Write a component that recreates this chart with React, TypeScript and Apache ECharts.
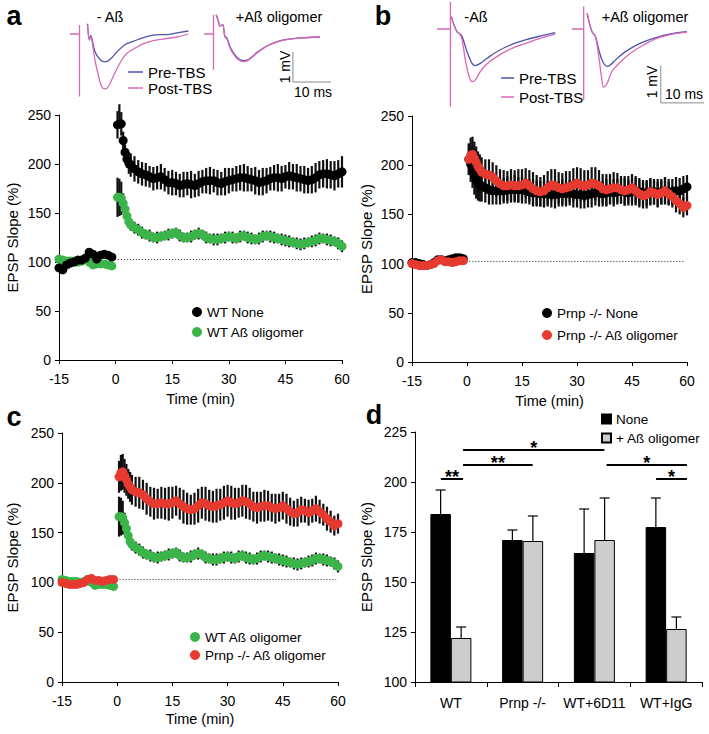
import React, { useEffect, useRef } from "react";
import * as echarts from "echarts";

const FONT = "'Liberation Sans', Arial, Helvetica, sans-serif";

// ---- time course (min) ----
const times = [
  -15, -14, -13, -12, -11, -10, -9, -8, -7, -6, -5, -4, -3, -2, -1,
  0.5, 1, 1.5, 2, 2.5, 3, 3.5, 4,
  5, 6, 7, 8, 9, 10, 11, 12,
  13, 14, 15, 16, 17, 18, 19, 20,
  21, 22, 23, 24, 25, 26, 27, 28,
  29, 30, 31, 32, 33, 34, 35, 36,
  37, 38, 39, 40, 41, 42, 43, 44,
  45, 46, 47, 48, 49, 50, 51, 52,
  53, 54, 55, 56, 57, 58, 59, 60,
];

const wtNoneMean = [
  94, 92, 97, 99, 100, 102, 102, 104, 110, 108, 103, 107, 108, 107, 105,
  240, 251, 241, 224, 212, 205, 201, 199,
  195, 192, 190, 189, 187, 185, 186, 187,
  184, 181, 181, 180, 178, 179, 180, 179,
  178, 180, 182, 183, 183, 183, 181, 180,
  182, 183, 184, 185, 186, 186, 185, 184,
  183, 181, 182, 183, 185, 186, 186, 185,
  187, 188, 187, 186, 185, 184, 183, 184,
  186, 189, 190, 190, 189, 188, 190, 192,
];
const wtNoneErr = [
  4, 4, 3, 3, 3, 3, 3, 3, 4, 4, 3, 4, 4, 3, 3,
  14, 10, 12, 9, 8, 9, 11, 12,
  13, 12, 12, 12, 11, 12, 12, 13,
  12, 12, 13, 12, 12, 13, 12, 14,
  12, 13, 12, 13, 14, 12, 13, 12,
  14, 13, 12, 13, 13, 14, 13, 12,
  14, 13, 14, 13, 12, 13, 14, 13,
  12, 14, 13, 14, 13, 14, 13, 14,
  15, 14, 14, 15, 14, 15, 14, 16,
];
const wtAbMean = [
  103, 102, 101, 101, 101, 100, 101, 103, 100, 97, 98, 98, 98, 97, 96,
  166, 166, 165, 160, 154, 147, 141, 138,
  135, 133, 130, 128, 127, 125, 125, 126,
  127, 128, 129, 130, 127, 125, 125, 126,
  128, 129, 128, 125, 124, 123, 123, 124,
  125, 126, 125, 124, 126, 127, 125, 124,
  123, 124, 126, 127, 126, 125, 124, 123,
  122, 121, 120, 119, 118, 119, 120, 121,
  122, 124, 124, 123, 122, 121, 119, 116,
];
const wtAbErr = [
  3, 3, 2, 2, 2, 2, 2, 3, 3, 2, 2, 2, 2, 2, 2,
  20, 19, 17, 10, 8, 7, 6, 6,
  6, 6, 6, 5, 6, 5, 6, 5,
  5, 6, 5, 5, 6, 5, 5, 6,
  5, 6, 5, 6, 5, 6, 6, 5,
  6, 5, 6, 5, 6, 5, 6, 6,
  5, 6, 6, 5, 6, 6, 5, 6,
  6, 6, 5, 6, 6, 6, 5, 6,
  6, 6, 5, 6, 6, 5, 6, 6,
];
const prnpNoneMean = [
  101, 101, 100, 99, 98, 99, 101, 104, 104, 103, 104, 105, 106, 106, 105,
  206, 201, 196, 190, 185, 182, 180, 179,
  177, 175, 174, 174, 174, 174, 175, 175,
  176, 175, 175, 174, 173, 172, 172, 171,
  171, 171, 170, 170, 171, 172, 171, 172,
  171, 170, 170, 169, 170, 171, 172, 172,
  171, 172, 173, 172, 173, 174, 173, 172,
  173, 174, 173, 172, 172, 173, 173, 172,
  173, 174, 173, 173, 174, 174, 176, 178,
];
const prnpNoneErr = [
  3, 3, 3, 3, 3, 3, 3, 3, 3, 3, 3, 3, 3, 3, 3,
  16, 18, 19, 20, 19, 18, 17, 16,
  15, 15, 14, 14, 14, 13, 14, 13,
  14, 13, 14, 13, 13, 14, 13, 13,
  14, 13, 13, 14, 13, 14, 13, 13,
  14, 13, 14, 13, 13, 14, 13, 14,
  13, 14, 13, 14, 13, 13, 14, 13,
  14, 13, 14, 13, 13, 14, 13, 14,
  13, 14, 13, 13, 14, 13, 13, 12,
];
const prnpAbMean = [
  100, 99, 98, 98, 98, 99, 100, 103, 104, 102, 102, 101, 102, 103, 103,
  206, 210, 211, 207, 203, 199, 196, 193,
  191, 190, 188, 184, 181, 179, 179, 180,
  179, 179, 180, 182, 179, 176, 174, 173,
  174, 177, 180, 179, 177, 176, 177, 178,
  180, 182, 180, 179, 180, 182, 181, 179,
  176, 175, 176, 177, 177, 175, 174, 175,
  177, 174, 171, 169, 170, 173, 172, 170,
  172, 174, 171, 168, 164, 161, 157, 159,
];
const prnpAbErr = [
  3, 3, 3, 3, 3, 3, 3, 4, 4, 3, 3, 3, 3, 3, 3,
  16, 18, 18, 17, 16, 15, 15, 15,
  15, 16, 15, 16, 15, 16, 15, 16,
  16, 17, 16, 15, 16, 17, 16, 15,
  16, 17, 16, 17, 16, 16, 17, 16,
  17, 16, 17, 16, 15, 16, 17, 16,
  15, 16, 15, 16, 15, 14, 15, 14,
  14, 15, 14, 13, 14, 13, 12, 13,
  12, 13, 12, 11, 12, 11, 10, 10,
];
const baselineLevel = [103, 102, 103];

// ---- bar panel d ----
const groups = ["WT", "Prnp -/-", "WT+6D11", "WT+IgG"];
const noneMean = [184, 171, 164.5, 177.5];
const noneErr = [12, 5, 22, 14.5];
const abMean = [122, 170.5, 171, 126.5];
const abErr = [5.5, 12.5, 21, 6];
// significance brackets: [from, to, level] (category units)
const sigLines = [
  [0.36, 0.67, 201.5],
  [0.67, 1.64, 208.5],
  [0.67, 2.64, 216],
  [2.67, 3.79, 208.5],
  [3.36, 3.79, 201.5],
];
const sigStars = ["**", "**", "*", "*", "*"];

// ---- EPSP traces (ms, mV) ----
const artA1 = [[0, 0], [2.5, 0], [2.5, 0.3], [2.5, -2.08]];
const artA2 = [[0, 0], [2.5, 0], [2.5, 0.64], [2.5, -1.19]];
const artB1 = [[0, 0], [3.1, 0], [3.1, 0.73], [3.1, -2.08]];
const artB2 = [[0, 0], [2.7, 0], [2.7, 0.6], [2.7, -1.9]];
const trA1Pre = [[4.6, 0.34], [5.1, -0.2], [5.4, -0.05], [6.6, -0.6], [7.9, -0.85], [9.2, -0.93], [10.5, -0.85], [12.3, -0.6], [14.5, -0.35], [16.7, -0.24], [19.3, -0.12], [21.9, -0.04], [23.7, -0.02], [25.4, -0.02], [28.1, 0.04], [31.1, 0.1]];
const trA1Post = [[4.6, 0.3], [5.1, -0.2], [5.4, -0.1], [6.6, -0.9], [7.5, -1.4], [8.3, -1.75], [9.2, -1.83], [10.1, -1.75], [11.4, -1.4], [13.2, -0.95], [14.9, -0.65], [16.7, -0.5], [19.3, -0.32], [21.9, -0.22], [25.4, -0.15], [28.1, -0.1], [31.1, 0.0]];
const trA2Pre = [[3.2, 0.64], [3.8, 0.42], [4.2, 0.26], [4.9, 0.31], [5.5, -0.08], [6.0, -0.13], [6.8, -0.41], [7.7, -0.62], [9.0, -0.82], [10.4, -0.89], [11.7, -0.85], [13.9, -0.62], [16.5, -0.4], [19.1, -0.26], [21.8, -0.18], [25.3, -0.13], [30.5, -0.1]];
const trA2Post = [[3.2, 0.64], [3.8, 0.42], [4.2, 0.26], [4.9, 0.31], [5.5, -0.1], [6.0, -0.16], [6.8, -0.45], [7.7, -0.66], [9.0, -0.85], [10.4, -0.92], [11.7, -0.87], [13.9, -0.64], [16.5, -0.41], [19.1, -0.27], [21.8, -0.19], [25.3, -0.13], [30.5, -0.1]];
const trB1Pre = [[3.3, 0.33], [3.8, 0.15], [4.6, -0.07], [5.2, -0.12], [5.8, -0.2], [6.9, -0.6], [8.1, -0.92], [8.8, -0.98], [10.0, -0.92], [11.5, -0.79], [13.8, -0.61], [16.9, -0.43], [20.8, -0.28], [23.8, -0.19], [27.3, -0.1]];
const trB1Post = [[3.3, 0.33], [3.8, 0.15], [4.6, -0.07], [5.2, -0.12], [5.8, -0.3], [6.5, -0.8], [7.3, -1.23], [8.1, -1.41], [8.8, -1.37], [10.0, -1.14], [11.5, -0.94], [13.8, -0.74], [16.9, -0.54], [20.8, -0.37], [23.8, -0.25], [27.3, -0.14]];
const trB2Pre = [[3.5, 0.42], [4.6, -0.07], [5.4, -0.2], [6.2, -0.56], [7.0, -0.85], [8.1, -1.0], [9.0, -0.95], [10.4, -0.79], [12.7, -0.58], [15.8, -0.38], [18.8, -0.25], [22.7, -0.13], [26.5, -0.07]];
const trB2Post = [[3.5, 0.42], [4.6, -0.07], [5.4, -0.2], [6.2, -0.75], [6.8, -1.28], [7.3, -1.56], [8.1, -1.46], [9.2, -1.14], [11.2, -0.88], [13.5, -0.65], [16.5, -0.43], [19.6, -0.25], [23.5, -0.13], [26.5, -0.09]];
const scaleBarA = [[23.4, -0.6], [23.4, -1.6], [33.4, -1.6]];
const scaleBarB = [[20.5, -0.98], [20.5, -1.98], [30.5, -1.98]];

const BLACK = "#000000";
const GREEN = "#3bb54a";
const RED = "#e63a30";
const BLUE = "#4d55a8";
const PINK = "#d968b6";

function errSeries(idx: number, mean: number[], err: number[]) {
  return {
    type: "custom",
    xAxisIndex: idx,
    yAxisIndex: idx,
    silent: true,
    z: 1,
    data: times.map((t, i) => [t, mean[i] - (err[i] || 0), mean[i] + (err[i] || 0)]),
    encode: { x: 0, y: [1, 2] },
    renderItem: (params: any, api: any) => {
      const lo = api.coord([api.value(0), api.value(1)]);
      const hi = api.coord([api.value(0), api.value(2)]);
      return {
        type: "line",
        shape: { x1: lo[0], y1: lo[1], x2: hi[0], y2: hi[1] },
        style: { stroke: "#111111", lineWidth: 2.2 },
      };
    },
  };
}

function dotSeries(idx: number, name: string, mean: number[], color: string, baseline?: number) {
  const s: any = {
    type: "scatter",
    name,
    xAxisIndex: idx,
    yAxisIndex: idx,
    z: 3,
    symbol: "circle",
    symbolSize: 9,
    silent: true,
    itemStyle: { color, opacity: 1 },
    data: times.map((t, i) => [t, mean[i]]),
  };
  if (baseline !== undefined) {
    s.markLine = {
      silent: true,
      symbol: ["none", "none"],
      label: { show: false },
      lineStyle: { type: [1, 2], color: "#222", width: 1 },
      z: 2,
      data: [[{ coord: [-1, baseline] }, { coord: [59.5, baseline] }]],
    };
  }
  return s;
}

function traceSeries(idx: number, name: string, data: number[][], color: string) {
  return {
    type: "line",
    name,
    xAxisIndex: idx,
    yAxisIndex: idx,
    data,
    color,
    showSymbol: false,
    smooth: 0.35,
    silent: true,
    lineStyle: { color, width: 1.3 },
  };
}

function scaleSeries(idx: number, data: number[][]) {
  return {
    type: "line",
    xAxisIndex: idx,
    yAxisIndex: idx,
    data,
    showSymbol: false,
    silent: true,
    lineStyle: { color: "#8a8a8a", width: 1 },
  };
}

const axisText = { color: "#000", fontSize: 14, fontFamily: FONT };

function timeX(gi: number, labelMargin: number, nameGap: number) {
  return {
    type: "value",
    gridIndex: gi,
    min: -15,
    max: 60,
    interval: 15,
    axisLine: { show: true, onZero: false, lineStyle: { color: "#000", width: 1 } },
    axisTick: { show: true, length: 4, lineStyle: { color: "#000" } },
    axisLabel: { ...axisText, margin: labelMargin },
    splitLine: { show: false },
    name: "Time (min)",
    nameLocation: "middle",
    nameGap,
    nameTextStyle: { color: "#000", fontSize: 14.5, fontFamily: FONT },
  };
}

function slopeY(gi: number, min: number, max: number, interval: number, nameGap: number) {
  return {
    type: "value",
    gridIndex: gi,
    min,
    max,
    interval,
    axisLine: { show: true, onZero: false, lineStyle: { color: "#000", width: 1 } },
    axisTick: { show: true, length: 4, lineStyle: { color: "#000" } },
    axisLabel: { ...axisText, margin: 8 },
    splitLine: { show: false },
    name: "EPSP Slope (%)",
    nameLocation: "middle",
    nameGap,
    nameTextStyle: { color: "#000", fontSize: 15, fontFamily: FONT },
  };
}

function hiddenAxis(gi: number, min: number, max: number) {
  return { type: "value", gridIndex: gi, min, max, show: false, splitLine: { show: false } };
}

function barErr(idx: number, mean: number[], err: number[], side: number) {
  return {
    type: "custom",
    xAxisIndex: 3,
    yAxisIndex: 3,
    silent: true,
    z: 4,
    data: mean.map((m, i) => [i, m, err[i]]),
    renderItem: (params: any, api: any) => {
      const i = api.value(0);
      const m = api.value(1);
      const e = api.value(2);
      const base = api.coord([i, m]);
      const top = api.coord([i, m + e]);
      const bw = api.size([1, 0])[0];
      const x = base[0] + side * bw * 0.1429;
      return {
        type: "group",
        children: [
          { type: "line", shape: { x1: x, y1: base[1], x2: x, y2: top[1] }, style: { stroke: "#000", lineWidth: 1.2 } },
          { type: "line", shape: { x1: x - 5, y1: top[1], x2: x + 5, y2: top[1] }, style: { stroke: "#000", lineWidth: 1.2 } },
        ],
      };
    },
  };
}

function legendCfg(data: string[], left: number, top: number, gap: number, icon: string, w: number, h: number, fs: number) {
  return {
    data,
    left,
    top,
    orient: "vertical",
    icon,
    itemWidth: w,
    itemHeight: h,
    itemGap: gap,
    selectedMode: false,
    padding: 0,
    textStyle: { color: "#000", fontSize: fs, fontFamily: FONT, lineHeight: 16 },
  };
}

function txt(text: string, x: number, y: number, size: number, bold = false, rotation = 0, align = "center") {
  return {
    type: "text",
    x,
    y,
    rotation,
    silent: true,
    style: {
      text,
      fill: "#000",
      fontSize: size,
      fontWeight: bold ? "bold" : "normal",
      fontFamily: FONT,
      align,
      textAlign: align,
      verticalAlign: "middle",
      textVerticalAlign: "middle",
    },
  };
}

export default function App() {
  const ref = useRef<HTMLDivElement>(null);
  useEffect(() => {
    document.body.style.margin = "0";
    if (!ref.current) return;
    const chart = echarts.init(ref.current, undefined, { renderer: "svg" });
    const option: any = {
      animation: false,
      backgroundColor: "#ffffff",
      grid: [
        { left: 59, top: 115, width: 283, height: 245 },
        { left: 412, top: 116, width: 275, height: 246 },
        { left: 62, top: 433, width: 276, height: 249 },
        { left: 415, top: 432, width: 287, height: 250 },
        { left: 70, top: 10, width: 118, height: 90 },
        { left: 204, top: 10, width: 133, height: 90 },
        { left: 437, top: 1, width: 118.3, height: 110.1 },
        { left: 572, top: 1, width: 134.3, height: 110.1 },
      ],
      xAxis: [
        timeX(0, 12, 31),
        timeX(1, 12, 31),
        timeX(2, 12, 29),
        {
          type: "category",
          gridIndex: 3,
          data: groups,
          axisLine: { show: true, onZero: false, lineStyle: { color: "#000", width: 1 } },
          axisTick: { show: true, length: 5, alignWithLabel: false, lineStyle: { color: "#000" } },
          axisLabel: { ...axisText, margin: 14, interval: 0 },
        },
        hiddenAxis(4, 0, 31),
        hiddenAxis(5, 0, 35),
        hiddenAxis(6, 0, 27.3),
        hiddenAxis(7, 0, 31),
        hiddenAxis(3, 0, 4),
      ],
      yAxis: [
        slopeY(0, 0, 250, 50, 39),
        slopeY(1, 0, 250, 50, 38),
        slopeY(2, 0, 250, 50, 42),
        slopeY(3, 100, 225, 25, 41),
        hiddenAxis(4, -2.2, 0.8),
        hiddenAxis(5, -2.2, 0.8),
        hiddenAxis(6, -2.2, 0.75),
        hiddenAxis(7, -2.2, 0.75),
      ],
      legend: [
        legendCfg(["WT None", "WT Aß oligomer"], 192, 304, 4, "circle", 10, 10, 13.5),
        legendCfg(["Prnp -/- None", "Prnp -/- Aß oligomer"], 542, 305, 6, "circle", 10, 10, 13.5),
        legendCfg(["WT Aß oligomer", "Prnp -/- Aß oligomer"], 190, 629, 2, "circle", 10, 10, 13.5),
        legendCfg(["None", "+ Aß oligomer"], 601, 411, 3, "rect", 9, 9, 13.5),
        legendCfg(["Pre-TBS", "Post-TBS"], 128, 64, 0, "rect", 15, 1.5, 15),
        legendCfg(["Pre-TBS", "Post-TBS"], 501, 70, 3, "rect", 13, 1.5, 15),
      ],
      series: [
        // panel a
        errSeries(0, wtNoneMean, wtNoneErr),
        errSeries(0, wtAbMean, wtAbErr),
        dotSeries(0, "WT Aß oligomer", wtAbMean, GREEN, baselineLevel[0]),
        dotSeries(0, "WT None", wtNoneMean, BLACK),
        // panel b
        errSeries(1, prnpNoneMean, prnpNoneErr),
        errSeries(1, prnpAbMean, prnpAbErr),
        dotSeries(1, "Prnp -/- None", prnpNoneMean, BLACK, baselineLevel[1]),
        dotSeries(1, "Prnp -/- Aß oligomer", prnpAbMean, RED),
        // panel c
        errSeries(2, wtAbMean, wtAbErr),
        errSeries(2, prnpAbMean, prnpAbErr),
        dotSeries(2, "WT Aß oligomer", wtAbMean, GREEN, baselineLevel[2]),
        dotSeries(2, "Prnp -/- Aß oligomer", prnpAbMean, RED),
        // panel d
        {
          type: "bar",
          name: "None",
          xAxisIndex: 3,
          yAxisIndex: 3,
          data: noneMean,
          barWidth: 20.5,
          barGap: "0%",
          silent: true,
          itemStyle: { color: "#000", borderColor: "#000", borderWidth: 1 },
        },
        {
          type: "bar",
          name: "+ Aß oligomer",
          xAxisIndex: 3,
          yAxisIndex: 3,
          data: abMean,
          barWidth: 20.5,
          barGap: "0%",
          silent: true,
          itemStyle: { color: "#cdcdcd", borderColor: "#000", borderWidth: 1 },
        },
        barErr(3, noneMean, noneErr, -1),
        barErr(3, abMean, abErr, 1),
        {
          type: "custom",
          xAxisIndex: 8,
          yAxisIndex: 3,
          silent: true,
          z: 5,
          data: sigLines,
          encode: { x: [0, 1], y: 2 },
          renderItem: (params: any, api: any) => {
            const a = api.coord([api.value(0), api.value(2)]);
            const b = api.coord([api.value(1), api.value(2)]);
            return {
              type: "group",
              children: [
                { type: "line", shape: { x1: a[0], y1: a[1], x2: b[0], y2: b[1] }, style: { stroke: "#000", lineWidth: 2 } },
                {
                  type: "text",
                  x: (a[0] + b[0]) / 2,
                  y: a[1] - 2,
                  style: {
                    text: sigStars[params.dataIndex],
                    fill: "#000",
                    fontSize: 18,
                    fontWeight: "bold",
                    fontFamily: FONT,
                    align: "center",
                    verticalAlign: "middle",
                  },
                },
              ],
            };
          },
        },
        // traces a
        traceSeries(4, "Post-TBS", artA1, PINK),
        traceSeries(4, "Pre-TBS", trA1Pre, BLUE),
        traceSeries(4, "Post-TBS", trA1Post, PINK),
        traceSeries(5, "Post-TBS", artA2, PINK),
        traceSeries(5, "Pre-TBS", trA2Pre, BLUE),
        traceSeries(5, "Post-TBS", trA2Post, PINK),
        scaleSeries(5, scaleBarA),
        // traces b
        traceSeries(6, "Post-TBS", artB1, PINK),
        traceSeries(6, "Pre-TBS", trB1Pre, BLUE),
        traceSeries(6, "Post-TBS", trB1Post, PINK),
        traceSeries(7, "Post-TBS", artB2, PINK),
        traceSeries(7, "Pre-TBS", trB2Pre, BLUE),
        traceSeries(7, "Post-TBS", trB2Post, PINK),
        scaleSeries(7, scaleBarB),
      ],
      graphic: [
        txt("a", 14, 16, 27, true),
        txt("b", 383, 16, 27, true),
        txt("c", 14, 417, 27, true),
        txt("d", 374, 415, 27, true),
        txt("- Aß", 110, 17, 14.5),
        txt("+Aß oligomer", 279, 17, 14.5),
        txt("-Aß", 476, 17, 14.5),
        txt("+Aß oligomer", 645, 17, 14.5),
        txt("1 mV", 285, 67, 14, false, Math.PI / 2),
        txt("10 ms", 313, 92, 14),
        txt("1 mV", 652, 82, 14, false, Math.PI / 2),
        txt("10 ms", 684, 94, 14),
      ],
    };
    chart.setOption(option);
    return () => chart.dispose();
  }, []);
  return <div ref={ref} style={{ width: 709, height: 734 }} />;
}
